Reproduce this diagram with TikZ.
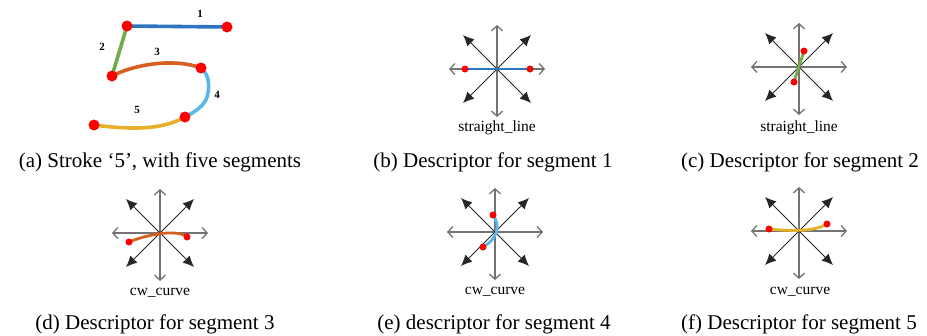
\documentclass[tikz,border=0pt]{standalone}
\usepackage{fontspec}
\setmainfont{Liberation Serif}
\usetikzlibrary{arrows.meta}
\definecolor{segblue}{RGB}{46,117,190}
\definecolor{seggreen}{RGB}{112,173,71}
\definecolor{segorange}{RGB}{214,96,32}
\definecolor{segsky}{RGB}{91,183,232}
\definecolor{segyellow}{RGB}{232,176,40}

\begin{document}
\begin{tikzpicture}[
      x=1pt,y=-1pt,
      seg/.style={line width=3.6pt, line cap=round},
      dseg/.style={line width=2.8pt, line cap=round},
      dot/.style={fill=red, draw=none},
      axis/.style={draw=black!55, line width=1.3pt, {Straight Barb[length=5pt,width=11pt]}-{Straight Barb[length=5pt,width=11pt]}},
      diag/.style={draw=black!85, line width=0.9pt, {Latex[length=11pt,width=10pt]}-{Latex[length=11pt,width=10pt]}},
      caption/.style={font=\fontsize{21}{24}\selectfont, anchor=base, inner sep=0pt},
      tag/.style={font=\fontsize{15.5}{18}\selectfont, inner sep=0pt},
      num/.style={font=\bfseries\fontsize{11}{13}\selectfont, inner sep=0pt}
    ]
      \useasboundingbox (0,0) rectangle (927,335);
      % stroke '5'
      \draw[seg, segblue] (127,26) -- (227,27);
      \draw[seg, seggreen] (127,26) -- (112,76);
      \draw[seg, segorange] (112,76) .. controls (135,64) and (175,58) .. (201,68);
      \draw[seg, segsky] (201,68) .. controls (211,76) and (209,90) .. (207,97) .. controls (205,105) and (195,112) .. (185,117);
      \draw[seg, segyellow] (185,117) .. controls (165,128) and (140,131) .. (94,125);
      \foreach \px/\py in {127/26, 227/27, 112/76, 201/68, 185/117, 94/125}
        \fill[dot] (\px,\py) circle (5.5);
      \node[num] (n1) at (200,14) {1};
      \node[num] (n2) at (102,47) {2};
      \node[num] (n3) at (157,52) {3};
      \node[num] (n4) at (217,95) {4};
      \node[num] (n5) at (137,110) {5};
      % the eight directions
      \foreach \cx/\cy in {497/69, 799/67, 160/233, 495/232, 799/231} {
        \begin{scope}[shift={(\cx,\cy)}]
          \draw[axis] (0,-44) -- (0,48);
          \draw[axis] (-48,0) -- (48,0);
          \draw[diag] (-34,-34) -- (34,34);
          \draw[diag] (-34,34) -- (34,-34);
        \end{scope}
      }
      % segment 1
      \begin{scope}[shift={(497,69)}]
        \draw[dseg, segblue] (-32,0) -- (33,0);
        \fill[dot] (-32,0) circle (3.5) (33,0) circle (3.5);
      \end{scope}
      % segment 2
      \begin{scope}[shift={(799,67)}]
        \draw[dseg, seggreen] (5,-16) -- (-5,15);
        \fill[dot] (5,-16) circle (3.5) (-5,15) circle (3.5);
      \end{scope}
      % segment 3
      \begin{scope}[shift={(160,233)}]
        \draw[dseg, segorange] (-31,9) .. controls (-12,1) and (18,-4) .. (27,4);
        \fill[dot] (-31,9) circle (3.5) (27,4) circle (3.5);
      \end{scope}
      % segment 4
      \begin{scope}[shift={(495,232)}]
        \draw[dseg, segsky] (-2,-17) .. controls (5,-8) and (4,6) .. (-12,15);
        \fill[dot] (-2,-17) circle (3.5) (-12,15) circle (3.5);
      \end{scope}
      % segment 5
      \begin{scope}[shift={(799,231)}]
        \draw[dseg, segyellow] (-30,-2) .. controls (-10,0) and (15,1) .. (28,-7);
        \fill[dot] (-30,-2) circle (3.5) (28,-7) circle (3.5);
      \end{scope}
      \node[tag] (tb) at (497,128) {straight\_line};
      \node[tag] (tc) at (799,128) {straight\_line};
      \node[tag] (td) at (160,293) {cw\_curve};
      \node[tag] (te) at (495,292) {cw\_curve};
      \node[tag] (tf) at (800,292) {cw\_curve};
      \node[caption] (capa) at (160,167) {(a) Stroke `5', with five segments};
      \node[caption] (capb) at (493,167) {(b) Descriptor for segment 1};
      \node[caption] (capc) at (800,167) {(c) Descriptor for segment 2};
      \node[caption] (capd) at (155,329) {(d) Descriptor for segment 3};
      \node[caption] (cape) at (494,329) {(e) descriptor for segment 4};
      \node[caption] (capf) at (799,329) {(f) Descriptor for segment 5};
    \end{tikzpicture}
\end{document}
